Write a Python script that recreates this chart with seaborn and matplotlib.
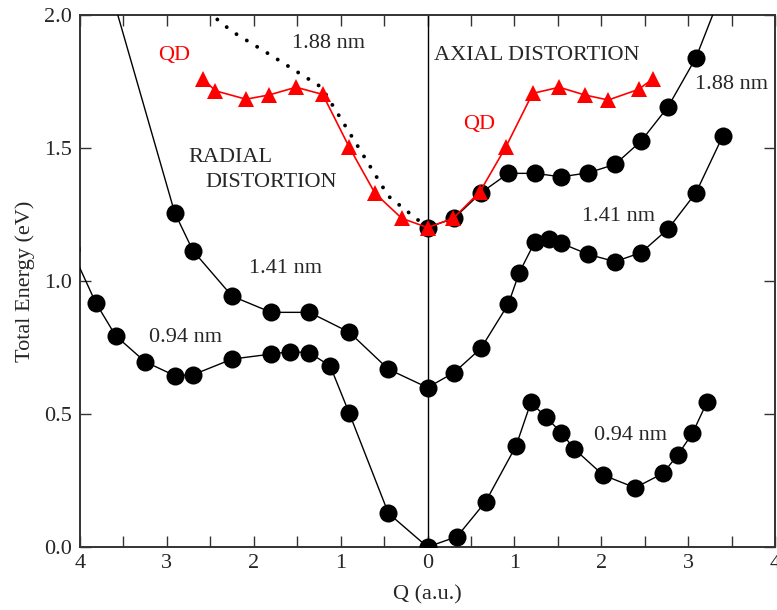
import matplotlib
matplotlib.use("Agg")
import matplotlib.pyplot as plt
import seaborn as sns
import pandas as pd

# ---- data (Q in a.u.; negative = radial distortion side, positive = axial) ----
q094 = [-4.10, -3.82, -3.59, -3.25, -2.91, -2.70, -2.25, -1.80, -1.58, -1.36, -1.12, -0.90, -0.45, 0.0,
        0.34, 0.67, 1.02, 1.19, 1.36, 1.54, 1.69, 2.02, 2.39, 2.71, 2.88, 3.05, 3.22]
e094 = [1.12, 0.92, 0.795, 0.697, 0.645, 0.648, 0.707, 0.726, 0.735, 0.731, 0.681, 0.503, 0.127, 0.0,
        0.039, 0.171, 0.381, 0.544, 0.490, 0.430, 0.369, 0.271, 0.223, 0.277, 0.346, 0.428, 0.547]

q141 = [-3.66, -2.91, -2.70, -2.25, -1.80, -1.36, -0.90, -0.45, 0.0,
        0.305, 0.616, 0.93, 1.056, 1.237, 1.40, 1.54, 1.85, 2.16, 2.46, 2.77, 3.09, 3.40]
e141 = [2.11, 1.258, 1.115, 0.944, 0.883, 0.883, 0.808, 0.669, 0.600,
        0.656, 0.748, 0.914, 1.032, 1.149, 1.158, 1.143, 1.101, 1.074, 1.108, 1.197, 1.333, 1.547]

q188_ax = [0.0, 0.305, 0.616, 0.93, 1.237, 1.54, 1.85, 2.16, 2.46, 2.77, 3.09, 3.40]
e188_ax = [1.202, 1.237, 1.333, 1.406, 1.406, 1.393, 1.408, 1.440, 1.528, 1.657, 1.841, 2.10]

q188_rad = [0.0, -0.45, -0.90, -1.22, -1.80, -2.25, -2.70]
e188_rad = [1.202, 1.32, 1.56, 1.73, 1.85, 1.94, 2.06]

q_qd = [-2.58, -2.445, -2.09, -1.824, -1.513, -1.206, -0.90, -0.604, -0.297, 0.0,
        0.297, 0.604, 0.903, 1.21, 1.517, 1.81, 2.08, 2.43, 2.59]
e_qd = [1.761, 1.717, 1.685, 1.701, 1.730, 1.703, 1.504, 1.331, 1.237, 1.202,
        1.237, 1.337, 1.506, 1.707, 1.730, 1.701, 1.682, 1.722, 1.761]

xticks = [-4, -3, -2, -1, 0, 1, 2, 3, 4]
xticklabels = ["4", "3", "2", "1", "0", "1", "2", "3", "4"]
yticks = [0.0, 0.5, 1.0, 1.5, 2.0]
yticklabels = ["0.0", "0.5", "1.0", "1.5", "2.0"]

sns.set_theme(style="ticks")
plt.rcParams["font.family"] = ["Liberation Serif", "DejaVu Serif"]
plt.rcParams["mathtext.fontset"] = "stix"

fig = plt.figure(figsize=(7.77, 6.10), dpi=100)
ax = fig.add_axes([80 / 777, 1 - 547 / 610, (775 - 80) / 777, (547 - 15.5) / 610])

ax.axvline(0, color="black", lw=1.0, zorder=1)

circ = dict(marker="o", markersize=13, markeredgewidth=0, color="black", lw=1.0,
            sort=False, estimator=None, zorder=3)

sns.lineplot(x=q094, y=e094, ax=ax, **circ)
sns.lineplot(x=q141, y=e141, ax=ax, **circ)
sns.lineplot(x=q188_ax, y=e188_ax, ax=ax, **circ)
sns.lineplot(x=q188_rad, y=e188_rad, ax=ax, color="black", lw=2.8, sort=False,
             estimator=None, zorder=2)
ax.lines[-1].set_linestyle((0, (0.01, 3.1)))
ax.lines[-1].set_dash_capstyle("round")
sns.lineplot(x=q_qd, y=e_qd, ax=ax, marker="^", markersize=12, markeredgewidth=0,
             color="#ff0000", lw=1.2, sort=False, estimator=None, zorder=4)

ax.set_xlim(-4, 4)
ax.set_ylim(0, 2)
ax.set_xticks(xticks)
ax.set_xticklabels(xticklabels)
ax.set_xticks([-3.5, -2.5, -1.5, -0.5, 0.5, 1.5, 2.5, 3.5], minor=True)
ax.set_yticks(yticks)
ax.set_yticklabels(yticklabels)

ax.tick_params(axis="both", which="both", direction="in", length=8, width=1.0,
               top=True, right=True, labelsize=16, color="#333333")
ax.tick_params(axis="x", which="major", pad=5)
ax.tick_params(axis="y", which="major", pad=6)
for s in ax.spines.values():
    s.set_linewidth(1.4)
    s.set_color("#333333")

ax.set_xlabel("Q (a.u.)", fontsize=16)
ax.set_ylabel("Total Energy (eV)", fontsize=16)
ax.xaxis.set_label_coords(0.5, -0.072)
ax.yaxis.set_label_coords(-0.065, 0.5)

fs = 16
ax.text(-2.92, 1.85, "QD", color="#ff0000", fontsize=fs, ha="center", va="center")
ax.text(0.598, 1.59, "QD", color="#ff0000", fontsize=fs, ha="center", va="center")
ax.text(-1.145, 1.893, "1.88 nm", fontsize=fs, ha="center", va="center")
ax.text(3.50, 1.740, "1.88 nm", fontsize=fs, ha="center", va="center")
ax.text(2.20, 1.242, "1.41 nm", fontsize=fs, ha="center", va="center")
ax.text(-1.63, 1.048, "1.41 nm", fontsize=fs, ha="center", va="center")
ax.text(-2.785, 0.788, "0.94 nm", fontsize=fs, ha="center", va="center")
ax.text(2.336, 0.421, "0.94 nm", fontsize=fs, ha="center", va="center")
ax.text(-2.756, 1.464, "RADIAL", fontsize=fs, ha="left", va="center")
ax.text(-2.56, 1.373, "DISTORTION", fontsize=fs, ha="left", va="center")
ax.text(0.075, 1.848, "AXIAL DISTORTION", fontsize=fs, ha="left", va="center")

fig.savefig("out.png", dpi=100)
